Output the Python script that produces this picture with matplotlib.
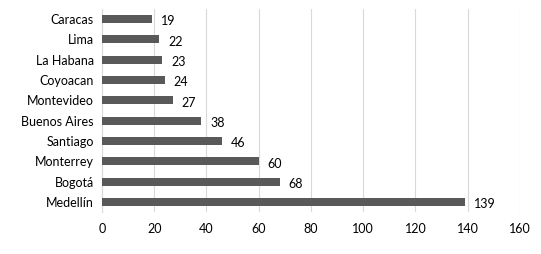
import matplotlib
matplotlib.use("Agg")
from matplotlib import pyplot as plt

ciudades = ["Caracas", "Lima", "La Habana", "Coyoacan", "Montevideo",
            "Buenos Aires", "Santiago", "Monterrey", "Bogotá", "Medellín"]
valores = [19, 22, 23, 24, 27, 38, 46, 60, 68, 139]
ticks_x = [0, 20, 40, 60, 80, 100, 120, 140, 160]

plt.rcParams["font.family"] = ["Lato", "DejaVu Sans"]
fs = 9

fig = plt.figure(figsize=(5.41, 2.54), dpi=100)
ax = fig.add_axes([0.1885, 0.165, 0.7725, 0.80])

pos = list(range(len(ciudades)))
ax.barh(pos, valores, height=0.4, color="#595959", zorder=3)
for p, v in zip(pos, valores):
    ax.text(v + 3.5, p + 0.12, str(v), va="center", ha="left", fontsize=fs, color="#000000")

ax.set_yticks(pos)
ax.set_yticklabels(ciudades, fontsize=fs)
ax.set_ylim(len(ciudades) - 0.5, -0.5)
ax.set_xlim(0, 160)
ax.set_xticks(ticks_x)
ax.set_xticklabels([str(t) for t in ticks_x], fontsize=fs)
ax.tick_params(length=0, pad=8)
ax.tick_params(axis="y", pad=6)
ax.grid(axis="x", color="#d9d9d9", linewidth=0.8, zorder=0)
for s in ["top", "right", "bottom"]:
    ax.spines[s].set_visible(False)
ax.spines["left"].set_color("#d9d9d9")
ax.spines["left"].set_linewidth(0.8)

fig.savefig("out.png", dpi=100)
